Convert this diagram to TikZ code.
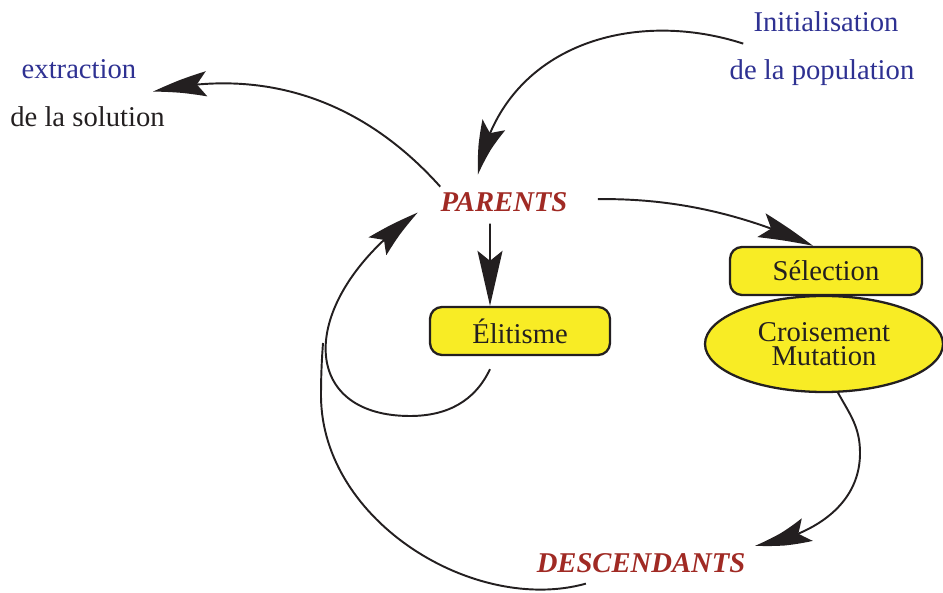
\documentclass[tikz,border=0pt]{standalone}
\usepackage{fontspec}
\setmainfont{Liberation Serif}
\usetikzlibrary{arrows.meta,bending,shapes.geometric}
\definecolor{bleu}{RGB}{46,49,146}
\definecolor{rouge}{RGB}{160,42,36}
\definecolor{jaune}{RGB}{248,236,37}
\definecolor{encre}{RGB}{35,31,32}

\begin{document}
\begin{tikzpicture}[
		every node/.style={inner sep=0pt,text=encre,font=\fontsize{16.3}{19.6}\selectfont},
		titre/.style={anchor=base,text=rouge,font=\fontsize{16.3}{19.6}\selectfont\bfseries\itshape},
		legende/.style={anchor=base},
		boite/.style={draw=encre,line width=1.3pt,fill=jaune,rounded corners=0.24cm,minimum width=3.6cm,minimum height=0.96cm},
		bulle/.style={draw=encre,line width=1.3pt,fill=jaune,ellipse,minimum width=4.76cm,minimum height=1.92cm,align=center,font=\fontsize{16.3}{13.8}\selectfont},
		fleche/.style={draw=encre,line width=1.1pt,-{Stealth[length=1.1cm,width=0.5cm,inset=0.2cm,bend]}},
		trait/.style={draw=encre,line width=1.1pt}]
			\useasboundingbox (0,0) rectangle (18.86,11.84);
			\node (parents) at (10.08,7.6) [titre]{PARENTS};
			\node (desc) at (12.82,0.4) [titre]{DESCENDANTS};
			\node (elit) at (10.4,5.22) [boite]{Élitisme};
			\node (selec) at (16.52,6.42) [boite,minimum width=3.84cm]{Sélection};
			\node (croise) at (16.48,4.96) [bulle]{Croisement\\Mutation};
			\node (extr) at (1.58,10.26) [legende,text=bleu]{extraction};
			\node (sol) at (1.75,9.3) [legende]{de la solution};
			\node (init) at (16.52,11.2) [legende,text=bleu]{Initialisation};
			\node (pop) at (16.44,10.24) [legende,text=bleu]{de la population};
			\coordinate (jonction) at (6.46,4.98);
			\draw[fleche] ([yshift=0.12cm]parents.north west) .. controls (7.2,9.9) and (5.2,10.5) .. ([shift={(0.33,-0.24)}]extr.south east);
			\draw[fleche] ([shift={(-0.2,-0.22)}]init.south west) .. controls (12.6,11.7) and (10.0,10.9) .. ([shift={(-0.52,0.36)}]parents.north);
			\draw[fleche] ([shift={(0.6,0.07)}]parents.east) .. controls (13.6,7.88) and (15.0,7.5) .. ([xshift=-0.26cm]selec.north);
			\draw[fleche] ([shift={(-0.28,-0.22)}]parents.south) -- ([xshift=-0.6cm]elit.north);
			\draw[fleche] ([shift={(-0.6,-0.26)}]elit.south) .. controls (9.5,3.82) and (8.95,3.52) .. (8.2,3.52) .. controls (5.9,3.52) and (5.95,5.9) .. ([xshift=-0.45cm]parents.south west);
			\draw[fleche] (croise.-74) .. controls (17.0,3.55) and (17.2,3.3) .. (17.2,2.78) .. controls (17.2,1.67) and (16.15,1.09) .. ([shift={(0.19,0.14)}]desc.north east);
			\draw[trait] ([shift={(0.99,-0.22)}]desc.south west) .. controls (9.5,-0.45) and (6.45,1.4) .. (6.42,3.9) .. controls (6.42,4.4) and (6.44,4.7) .. (jonction);
		\end{tikzpicture}
\end{document}
